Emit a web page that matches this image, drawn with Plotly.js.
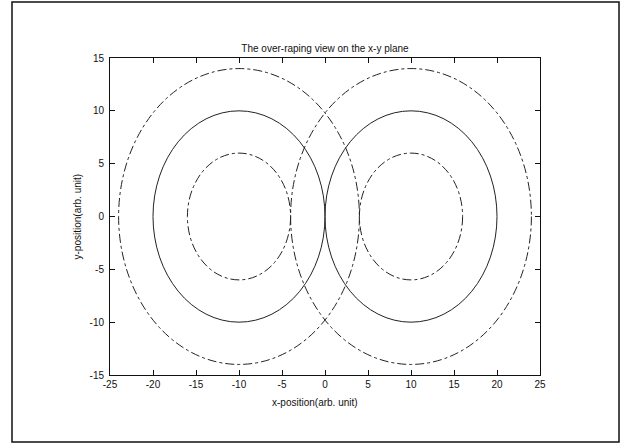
<!DOCTYPE html>
<html>
<head>
<meta charset="utf-8">
<script src="https://cdn.plot.ly/plotly-3.0.1.min.js"></script>
<style>html,body{margin:0;padding:0;background:#fff;}</style>
</head>
<body>
<div id="chart" style="width:621px;height:443px;"></div>
<script>
// Ellipse (circle) definitions
const centersX = [-10, 10];
const centerY = 0;
const radii = [6, 10, 14];
const radiusStyles = ['dashdot', 'solid', 'dashdot'];
const xTicks = [-25, -20, -15, -10, -5, 0, 5, 10, 15, 20, 25];
const yTicks = [-15, -10, -5, 0, 5, 10, 15];

const shapes = [];
centersX.forEach(cx => {
  radii.forEach((r, i) => {
    shapes.push({
      type: 'circle', xref: 'x', yref: 'y',
      x0: cx - r, x1: cx + r, y0: centerY - r, y1: centerY + r,
      line: {color: '#222', width: 1, dash: radiusStyles[i]},
      fillcolor: 'rgba(0,0,0,0)'
    });
  });
});
// figure frame
shapes.push({
  type: 'rect', xref: 'paper', yref: 'paper',
  x0: (12 - 110) / 430, x1: (619 - 110) / 430,
  y0: (375 - 442) / 317, y1: (375 - 2) / 317,
  line: {color: '#111', width: 1.5}, fillcolor: 'rgba(0,0,0,0)', layer: 'below'
});

const font = {family: 'Liberation Sans, Arial, sans-serif', size: 10, color: '#111'};

Plotly.newPlot('chart', [{x: [], y: [], type: 'scatter', mode: 'lines', showlegend: false}], {
  width: 621, height: 443,
  margin: {l: 110, r: 81, t: 58, b: 68},
  paper_bgcolor: '#fff', plot_bgcolor: '#fff',
  font: font,
  showlegend: false,
  title: {text: 'The over-raping view on the x-y plane', font: font,
          x: 0.5, xref: 'paper', y: 1 - 48.5 / 443, yref: 'container', yanchor: 'middle'},
  xaxis: {
    range: [-25, 25], tickvals: xTicks, ticktext: xTicks.map(String),
    ticks: 'inside', ticklen: 5, tickcolor: '#111', showline: true, linecolor: '#111', linewidth: 1,
    mirror: 'allticks', showgrid: false, zeroline: false, tickfont: font
  },
  yaxis: {
    range: [-15, 15], tickvals: yTicks, ticktext: yTicks.map(String),
    ticks: 'inside', ticklen: 5, tickcolor: '#111', showline: true, linecolor: '#111', linewidth: 1,
    mirror: 'allticks', showgrid: false, zeroline: false, tickfont: font, ticklabelstandoff: 3
  },
  annotations: [
    {text: 'x-position(arb. unit)', xref: 'paper', yref: 'paper',
     x: (315 - 110) / 430, y: (375 - 402.5) / 317, xanchor: 'center', yanchor: 'middle',
     showarrow: false, font: font},
    {text: 'y-position(arb. unit)', xref: 'paper', yref: 'paper',
     x: (76.5 - 110) / 430, y: (375 - 217) / 317, xanchor: 'center', yanchor: 'middle',
     textangle: -90, showarrow: false, font: font}
  ],
  shapes: shapes
}, {staticPlot: true});
</script>
</body>
</html>
